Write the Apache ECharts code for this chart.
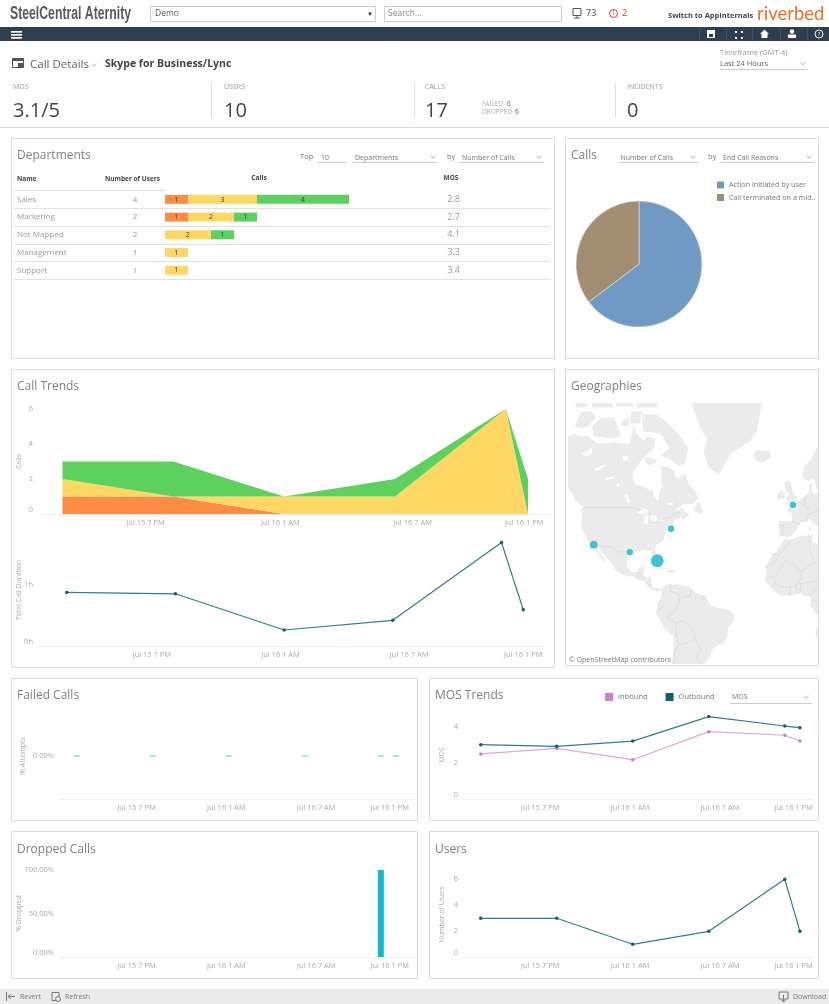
<!DOCTYPE html>
<html><head><meta charset="utf-8">
<style>html,body{margin:0;padding:0;background:#fff}#c{width:829px;height:1004px}</style>
<script src="https://cdn.jsdelivr.net/npm/echarts@6/dist/echarts.min.js"></script>
</head><body><div id="c"></div>
<script>
// ---------- data ----------
const departments = ['Sales','Marketing','Not Mapped','Management','Support'];
const deptUsers = [4,2,2,1,1];
const deptPoor = [1,1,0,0,0];
const deptFair = [3,2,2,1,1];
const deptGood = [4,1,1,0,0];
const deptMos = ['2.8','2.7','4.1','3.3','3.4'];
const endReasons = ['Action initiated by user','Call terminated on a mid..'];
const endReasonCalls = [11,6];
const hours = [0,6,12,18,24,25.2];
const tickNames = ['Jul 15 7 PM','Jul 16 1 AM','Jul 16 7 AM','Jul 16 1 PM'];
const tickHoursUpper = [4.5,11.8,18.95,25];
const tickHoursLower = [4.7,11.8,18.9,25.2];
const tickHoursNarrow = [4.7,11.8,18.9,24.7];
const callsPoor = [1,1,0,0,0,0];
const callsFair = [1,0,1,1,6,0];
const callsGood = [1,2,0,1,0,2];
const durationHours = [0.876,0.853,0.261,0.419,1.69,0.592];
const failedPct = [0,0,0,0,0,0];
const droppedPct = [0,0,0,0,100,0];
const mosInbound = [2.49,2.8,2.17,3.72,3.52,3.2];
const mosOutbound = [3.0,2.91,3.2,4.55,4.03,3.94];
const usersTrend = [3,3,1,2,6,2];
const cities = [['Miami',-80,24.5,8],['San Diego',-117,32.7,3],['Houston',-96,29,2],['New York',-72,40.2,2],['London',-1,50,2]];
const placeNames = [['Canada',-110,57.3],['United States',-97.7,38.2],['Brazil',-47.7,-13]];
// rough coastlines, lon/lat
const landRings = [
[[-132,69.5],[-128,70],[-125,69.5],[-120,69.5],[-115,68],[-110,68],[-105,68.2],[-100,68],[-96,68],[-94,71.5],[-92,70],[-88,68.5],[-85,69.5],[-81,69],[-82,67],[-87,65],[-90,63.5],[-94,61],[-94.5,59],[-92.5,57],[-88,56.5],[-85,55.3],[-82.5,55.2],[-82,53],[-80,51.3],[-79,52],[-79,54.5],[-76.5,56.5],[-78,58.7],[-77.5,60.5],[-78,62.4],[-74,62.2],[-70,61],[-69,58.8],[-65.5,59.8],[-64,60.3],[-61.5,57],[-58,54.8],[-56,52.5],[-59,50.3],[-65,50.2],[-67,49.3],[-70,47],[-65,49],[-64.5,47.5],[-61,46],[-64,44.5],[-66,43.7],[-66,45],[-67,44.8],[-70,43.7],[-71,42],[-74,40.5],[-75,38.5],[-76,36.8],[-76,35],[-78,33.9],[-81,32],[-81.5,30],[-80,27],[-80.2,25.3],[-81.5,25.5],[-82.7,28],[-83.5,29.5],[-85,29.7],[-89,30.3],[-89.5,29.2],[-91,29.3],[-94,29.5],[-97,28],[-97.5,25.5],[-97.7,22],[-96,19],[-94.5,18.2],[-91.5,18.5],[-90.5,21],[-87,21.5],[-88,18],[-88.5,16],[-84,15.8],[-83.3,14],[-83.7,11],[-82,9],[-79.5,9.5],[-77.5,8.7],[-78,7.5],[-80.5,7.3],[-83,8.3],[-85.5,10],[-87.5,13],[-91,14],[-94,16],[-97,15.8],[-101,17.3],[-105,19.8],[-105.5,22],[-109,25.7],[-112.5,29],[-114.5,31.5],[-114.7,30],[-111.5,26],[-110,23],[-112,24.8],[-115,28.5],[-117,32.5],[-120.5,34.5],[-122.5,37.8],[-124.2,40.5],[-124,46],[-124.7,48.4],[-122.7,49],[-125,50],[-128,52],[-130,54.5],[-132,56]],
[[-128,71.5],[-124,74],[-118,74],[-116,73],[-120,71.5],[-125,71]],
[[-117,69.5],[-106,69],[-101,69.5],[-105,73],[-112,73],[-118,71.5]],
[[-96,72],[-90,72],[-89,74],[-95,74]],
[[-100,72.5],[-96,73],[-97,71.5],[-101,71.5]],
[[-80,73.5],[-72,71.5],[-68,70],[-62,67],[-64,63],[-68,62.5],[-73,64.5],[-78,65],[-73,67],[-78,70],[-88,70.5],[-89,73.5]],
[[-92,75.3],[-80,75.3],[-80,74.6],[-92,74.6]],
[[-118,75.3],[-106,75.3],[-106,74.6],[-118,74.6]],
[[-104,75.3],[-94,75.3],[-94,74.8],[-104,74.8]],
[[-128,75.3],[-120,75.3],[-122,74.6],[-127,74.6]],
[[-87,65],[-80,64],[-84,62.5],[-87,63.5]],
[[-59,47.7],[-56,51.5],[-53,47],[-55.5,46.8]],
[[-64,49.8],[-62,49.4],[-64,49.2]],
[[-60,76],[-55,71],[-51,69],[-53,66],[-50,62],[-44,60],[-42,62],[-37,65.7],[-26,68.5],[-22,70.5],[-20,74],[-19,76]],
[[-24,65.5],[-22,66.4],[-15,66.3],[-13.7,65],[-18.5,63.4],[-22.5,63.9]],
[[-5.5,50],[1.3,51.2],[1.7,52.7],[0,53.5],[-1.5,55],[-2,57.5],[-4,58.5],[-6,57.5],[-5,55],[-3,54],[-4.5,53],[-5,51.7],[-3,51.3]],
[[-10,52],[-6,52.2],[-5.6,54.5],[-8,55.2],[-10,54]],
[[13.6,54.2],[11,54],[9.8,55],[10.5,57.5],[8.2,57],[8.5,54.8],[7,53.5],[4.5,52.5],[1.6,50.9],[0.2,49.6],[-1.5,49.5],[-4.7,48.5],[-1.2,46],[-1.8,43.4],[-8,43.7],[-9.3,43],[-9,38.7],[-8.8,37],[-6.3,36.7],[-5.4,36.1],[-2,36.8],[0,39],[3,41.8],[3.5,43.2],[6.5,43.1],[8.8,44.4],[10.5,43],[12.5,41.5],[13.6,41.2]],
[[12.5,38],[13.6,38.2],[13.6,37.2],[12.5,37.6]],
[[8.2,41],[9.7,41],[9.5,39],[8.5,39]],
[[5,59],[5,62],[10,64.5],[13.6,67.5],[13.6,55.5],[12.8,55.4],[11.8,58],[10.5,59],[8,58]],
[[11,37],[10,34],[13.6,32.8],[13.6,-11],[13,-6],[11.5,-4],[9,-1],[9.5,3.5],[8.5,4.5],[5.5,4.5],[4,6.3],[1,6],[-2,4.8],[-4.5,5.2],[-7.5,4.4],[-11,6.8],[-13.3,9],[-15,11],[-16.7,12.5],[-17.5,14.7],[-16.3,16.5],[-16.3,19],[-17,21],[-15,24.5],[-13,27.7],[-10,29.5],[-9.7,31.5],[-6.8,34],[-5.7,35.8],[-2,35.1],[3,36.9],[9.8,37.3]],
[[13.6,-11],[13.4,-12.5],[12,-17],[13.6,-22]],
[[-77.5,8.7],[-75.5,10.8],[-72,12],[-71.5,10.8],[-68,11.5],[-64,10.5],[-61.5,10.5],[-60,8.5],[-57,6],[-52,4.7],[-50,1],[-48.5,-1],[-44,-2.5],[-40,-2.8],[-37,-4.8],[-35,-6],[-35,-9],[-37.5,-12],[-39,-14],[-39,-18],[-41,-22],[-45,-23.5],[-48.5,-26],[-49,-29],[-52,-32],[-52.5,-33],[-71.5,-33],[-71,-30],[-70.5,-23],[-70.3,-18.5],[-76,-14],[-79,-8],[-81.2,-5],[-80,-2.5],[-80,0.5],[-78.5,2],[-77.5,4],[-77.5,7],[-78,7.5]],
[[-85,22],[-82,23.1],[-77,21],[-74.2,20.2],[-77.5,19.9],[-78,20.7],[-82,22]],
[[-74.4,18.5],[-73,19.9],[-68.5,18.8],[-70,18.2],[-72,18]],
[[-78.3,18.4],[-76.3,18.2],[-77,17.8]],
[[-67.2,18.5],[-65.7,18.4],[-66,18]]
];
const lakeRings = [
[[-92,46.7],[-88,48.8],[-85,47.5],[-85,46.5],[-90,46.6]],
[[-87.8,42],[-87,45.5],[-85,46],[-85.5,43],[-86.5,42]],
[[-84,46],[-81,45.8],[-80,44.5],[-82,43],[-83.5,44]],
[[-83,41.6],[-79,42.6],[-79,43],[-83,42.2]],
[[-79.5,43.3],[-76.2,43.5],[-76.5,44.2],[-79,44]],
[[-99,53.5],[-97,50.5],[-96,51],[-97.5,53.8]],
[[-116,61],[-109,62.7],[-112,62.5],[-116,61.7]],
[[-124,65.5],[-118,67],[-118,65.5],[-122,65]],
[[-111,59],[-105,59.5],[-105,59],[-110,58.5]],
[[-103.5,57.5],[-102,57.5],[-102,56.3],[-103.5,56.3]],
[[-74,50.5],[-71,51],[-71,50],[-74,50]],
[[-100,65],[-97,65],[-97,64],[-100,64]]
];
const borderLines = [
[[-123,49],[-95,49],[-89,48],[-84.5,46.5],[-82.5,45],[-82.5,42.5],[-79,43],[-76,44.5],[-71.5,45],[-69,47.3],[-67.5,45.5]],
[[-117,32.5],[-108,31.5],[-106.5,31.8],[-103,29],[-101,29.8],[-97.5,26]],
[[-92,14.5],[-91,17.5],[-89,17.8],[-88.5,15.8]],[[-89,14],[-87.5,16]],[[-85,11],[-83.7,11]],[[-83,8.3],[-82.8,9.5]],
[[-72,11.8],[-72.5,7.5],[-67.5,6],[-67,1.2]],[[-60,8.5],[-61,4.5],[-64,4]],[[-67,1.2],[-70,-4.2]],[[-70,-4.2],[-74,-8],[-69,-11]],
[[-69,-11],[-65,-10],[-60,-14],[-58,-18],[-58,-20]],[[-58,-20],[-62.5,-22],[-67,-23]],[[-70,-33],[-70,-27],[-67,-23]],[[-67,-23],[-69,-18]],[[-69,-18],[-69,-11]],
[[-80,-3.5],[-75,-1]],[[-58,-20],[-54.5,-25.5]],[[-54.5,-25.5],[-57.5,-30]],[[-57.5,-30],[-53.5,-33]],[[-57,6],[-58,1.5]],[[-54,5.5],[-54,2]],
[[-2,35],[-8.7,28],[-13,27.7]],[[-8.7,27.3],[-12,23.5],[-17,21]],[[-5,25],[-12,15],[-16.3,16.5]],[[-5,25],[4,19],[12,23.5]],[[8.5,36.9],[9,30],[12,23.5]],[[4,15],[4,19]],
[[-12,15],[-11,12],[-8,10],[-2.8,9.6],[2,11.5],[4,15]],[[-13.7,9.7],[-11,12]],[[-3,5],[-2.8,11]],[[1.5,6],[1,11]],[[3,6.3],[3.5,11.8],[13.6,13.5]],[[8.8,4.6],[13.6,10]],[[9.8,2.2],[13.6,2.2]],[[11.8,-4.8],[13.6,-4.5]],
[[-1.8,43.4],[3.2,42.4]],[[-8.8,42],[-6.5,41.6],[-7.4,37.2]],[[2.5,51],[6,49.5]],[[8,49],[7.5,47.6]],[[7,45.9],[10.5,47]],[[7.5,43.8],[7,45.9]],[[6,49.5],[8,49]],[[6,51.5],[6,49.5]],[[7,53.5],[6,51.5]],[[10.5,47],[13,47.5],[13.6,48.7]]
];

// ---------- page chrome ----------
const FONT = '"Open Sans","Noto Sans",sans-serif';
const g = [];
const T = (x,y,text,size,fill,o={}) => g.push(Object.assign({type:'text',x,y:y+(size>=11?1:0),silent:true,style:{text,fill,fontSize:size,fontFamily:o.family||FONT,fontWeight:o.weight||'normal',align:o.align||'left',verticalAlign:'middle'}},o.sx?{scaleX:o.sx}:{}));
const R = (x,y,w,h,fill,stroke) => g.push({type:'rect',silent:true,shape:{x,y,width:w,height:h},style:{fill:fill||'none',stroke:stroke||'none',lineWidth:1}});
const L = (x1,y1,x2,y2,c,w=1) => g.push({type:'line',silent:true,shape:{x1,y1,x2,y2},style:{stroke:c,lineWidth:w}});
const CH = (x,y,c='#999') => g.push({type:'polyline',silent:true,shape:{points:[[x-2.5,y-1.2],[x,y+1.2],[x+2.5,y-1.2]]},style:{stroke:c,lineWidth:.8,fill:'none'}});
const C = (x,y,r,fill,stroke) => g.push({type:'circle',silent:true,shape:{cx:x,cy:y,r},style:{fill:fill||'none',stroke:stroke||'none',lineWidth:1}});

// top bar
T(10,13,'SteelCentral Aternity',18,'#5a5a5a',{family:'"Liberation Sans"',weight:'bold',sx:0.68});
R(150.5,6.5,225,15,'#fff','#ccc'); T(155,14,'Demo',8.5,'#555'); T(370,14,'\u25BC',6,'#333',{align:'center'});
R(384.5,6.5,177,15,'#fff','#ccc'); T(388,14,'Search...',8.5,'#888');
R(573,8.5,8,7,'none','#555'); L(577,15.5,577,18,'#555'); L(574,18,580,18,'#555');
T(586,13.5,'73',9,'#444');
C(613.5,13.5,4,null,'#d9342b'); T(613.5,13.5,'!',6.5,'#d9342b',{align:'center'}); T(622,13.5,'2',9,'#d9342b');
T(668,16,'Switch to AppInternals',7.5,'#444',{weight:'bold'});
T(757,13,'riverbed',18.5,'#ee6d2c',{family:'"Lato","Open Sans"'});
// nav
R(0,27,829,14,'#2c3e50');
[11,14,17].forEach(y=>R(11,y+20,11,1.7,'#fff'));
[699,726,752,780,807].forEach(x=>L(x+.5,27,x+.5,41,'#3f5264'));
R(707,30,8,8,'#fff'); R(709,34,4,3,'#2c3e50'); 
[[735,31],[741,31],[735,37],[741,37]].forEach(p=>R(p[0],p[1],2,2,'#fff'));
g.push({type:'polygon',silent:true,shape:{points:[[764.5,29.5],[769,34],[767.5,34],[767.5,38],[761.5,38],[761.5,34],[760,34]]},style:{fill:'#fff'}});
C(792,31.5,2.2,'#fff'); R(788,34.5,8,3.5,'#fff');
C(819,34,4,null,'#fff'); T(819,34,'?',6,'#fff',{align:'center'});
// heading
R(12.5,58.5,11,9,'#fff','#555'); R(12.5,58.5,11,2.5,'#555'); R(18,63,5.5,4.5,'#555');
T(30,64,'Call Details',11.5,'#666'); CH(94,65);
T(105,64,'Skype for Business/Lync',10.5,'#444',{weight:'bold'});
T(720,53,'Timeframe (GMT-4)',7.5,'#999'); T(720,63.5,'Last 24 Hours',7.5,'#666');
L(720,69.5,808,69.5,'#ccc'); CH(803,63.5);
// KPIs
[['MOS',13,'3.1/5'],['USERS',224,'10'],['CALLS',425,'17'],['INCIDENTS',627,'0']].forEach(k=>{T(k[1],87,k[0],7,'#999');T(k[1],110,k[2],20,'#444');});
[211,414,615].forEach(x=>L(x+.5,83,x+.5,118,'#ddd'));
T(482,104,'FAILED',6.5,'#aaa'); T(507,104,'0',6.5,'#666'); T(482,112,'DROPPED',6.5,'#aaa'); T(515,112,'6',6.5,'#666');
L(0,127.5,829,127.5,'#d8d8d8');
// panels
[[11,138,543,220],[565,138,253,220],[11,369,543,298],[565,369,253,296],[11,678,406,142],[429,678,389,142],[11,831,406,147],[429,831,389,147]]
 .forEach(p=>R(p[0]+.5,p[1]+.5,p[2],p[3],null,'#dcdcdc'));
[[17,155,'Departments'],[571,155,'Calls'],[17,386,'Call Trends'],[571,386,'Geographies'],[17,695,'Failed Calls'],[435,695,'MOS Trends'],[17,849,'Dropped Calls'],[435,849,'Users']]
 .forEach(t=>T(t[0],t[1],t[2],12,'#808080'));
// controls
T(300,157,'Top',7.5,'#777'); T(321,157.5,'10',7,'#777'); L(317,162.5,347,162.5,'#ccc');
T(355,157.5,'Departments',7,'#777'); L(353,162.5,437,162.5,'#ccc'); CH(433,157);
T(447,157,'by',7.5,'#777'); T(462,157.5,'Number of Calls',7,'#777'); L(459,162.5,544,162.5,'#ccc'); CH(539,157);
T(620.5,157.5,'Number of Calls',7,'#777'); L(619,162.5,699,162.5,'#ccc'); CH(693,157);
T(708,157,'by',7.5,'#777'); T(723,157.5,'End Call Reasons',7,'#777'); L(721,162.5,814,162.5,'#ccc'); CH(809,157);
T(732,697,'MOS',7,'#777'); L(730,703.5,812,703.5,'#ccc'); CH(806,697);
// table
T(17,179,'Name',6.5,'#444',{weight:'bold'}); T(132.5,179,'Number of Users',6.5,'#444',{weight:'bold',align:'center'});
T(259,178,'Calls',6.5,'#444',{weight:'bold',align:'center'}); T(451,178,'MOS',6.5,'#444',{weight:'bold',align:'center'});
L(14,190.5,165,190.5,'#ddd');
const rowTop = 190.5, rowH = 17.72;
departments.forEach((d,i)=>{
  const y = rowTop + rowH*(i+.5);
  T(135,y,String(deptUsers[i]),8,'#999',{align:'center'});
  T(453.5,y,deptMos[i],9,'#999',{align:'center'});
  L(14,Math.round(rowTop+rowH*(i+1))+.5,550,Math.round(rowTop+rowH*(i+1))+.5,'#e2e2e2');
});
// footer
R(0,989,829,15,'#ebebeb');
L(6.5,992,6.5,1001,'#777'); L(8,996.5,15,996.5,'#777'); L(8,996.5,11,994,'#777'); L(8,996.5,11,999,'#777');
T(20,996.5,'Revert',7,'#777');
R(52,992.5,7,8,'none','#777'); C(58,999,2.5,'#ebebeb','#777');
T(65,996.5,'Refresh',7,'#777');
R(779,992,9,7,'none','#777'); L(783.5,995,783.5,1002,'#777'); L(781.5,1000,783.5,1002,'#777'); L(785.5,1000,783.5,1002,'#777');
T(793,996.5,'Download',7,'#777');
T(569,659.5,'\u00A9 OpenStreetMap contributors',7,'#777');

// ---------- map ----------
const merc = lat => Math.log(Math.tan(Math.PI/4+lat*Math.PI/360))*180/Math.PI;
const LON=[-132,13.6], LAT=[-33,75.3];
const proj = p => [Math.min(LON[1],Math.max(LON[0],p[0])), merc(Math.min(LAT[1],Math.max(LAT[0],p[1])))];
const closeRing = r => { const q=r.map(proj); q.push(q[0]); return [q]; };
echarts.registerMap('atlantic',{type:'FeatureCollection',features:[
 {type:'Feature',properties:{name:'Land'},geometry:{type:'MultiPolygon',coordinates:landRings.map(closeRing)}},
 {type:'Feature',properties:{name:'Lakes'},geometry:{type:'MultiPolygon',coordinates:lakeRings.map(closeRing)}}
]});

// ---------- chart helpers ----------
const tone = {fontSize:7.5,color:'#aaa',fontFamily:FONT};
const pairs = v => v.map((y,i)=>[hours[i],y]);
const flipped = v => v.map((y,i)=>[y,hours[i]]);
const xAxes=[], yAxes=[], grids=[];
function panel(left,top,width,height,xMin,xMax,ticks,yOpt,name,nameGap){
  const i=grids.length;
  grids.push({left,top,width,height});
  xAxes.push({type:'value',gridIndex:i,min:xMin,max:xMax,splitLine:{show:false},axisTick:{show:false},
    axisLine:{show:true,onZero:false,lineStyle:{color:'#eeeeee'}},
    axisLabel:Object.assign({customValues:ticks,hideOverlap:false,margin:5,showMinLabel:true,showMaxLabel:true,alignMaxLabel:'center',
      formatter:v=>tickNames[ticks.indexOf(v)]||''},tone)});
  yAxes.push(Object.assign({type:'value',gridIndex:i,splitLine:{show:false},axisLine:{show:false},axisTick:{show:false},
    name,nameLocation:'middle',nameGap,nameRotate:90,nameMoveOverlap:false,nameTextStyle:{fontSize:7,color:'#aaa',fontFamily:FONT}},yOpt));
  return i;
}
const yLab = (o={}) => Object.assign({margin:6,verticalAlignMinLabel:'bottom',showMaxLabel:false},tone,o);
const trendLine = (i,name,vals,color,lineColor) => ({type:'line',name,xAxisIndex:i,yAxisIndex:i,data:pairs(vals),symbol:'circle',symbolSize:3.5,showSymbol:true,
  itemStyle:{color},lineStyle:{color:lineColor,width:1.2},silent:true,animation:false});
// y first so that the stack runs along y; encode puts it back on the right axes
const band = (i,name,vals,color) => ({type:'line',name,xAxisIndex:i,yAxisIndex:i,stack:'calls',data:flipped(vals),encode:{x:1,y:0},showSymbol:false,symbol:'none',lineStyle:{width:0},areaStyle:{color,opacity:1},silent:true,animation:false});
const RED='#ff8c45',YEL='#ffd764',GRN='#5cd15d',TEAL='#0f6069',TEALL='#2f7e88';

const series=[];
// table
grids.push({left:165,top:190.5,width:184,height:88.6});
xAxes.push({type:'value',gridIndex:0,min:0,max:8,show:false});
yAxes.push({type:'category',gridIndex:0,inverse:true,data:departments,axisLine:{show:false},axisTick:{show:false},
  axisLabel:{align:'left',margin:148,fontSize:8,color:'#999',fontFamily:FONT}});
[['Poor',deptPoor,RED],['Fair',deptFair,YEL],['Good',deptGood,GRN]].forEach(b=>series.push({type:'bar',name:b[0],stack:'dept',xAxisIndex:0,yAxisIndex:0,data:b[1],barWidth:9,silent:true,animation:false,
  itemStyle:{color:b[2]},label:{show:true,position:'inside',fontSize:7.5,color:'#444',fontFamily:FONT,formatter:p=>p.value?p.value:''}}));
// call trends
let i=panel(39,409,513,105,-1.27,26.5,tickHoursUpper,{min:0,max:6,interval:2,axisLabel:yLab({showMaxLabel:true})},'Calls',17);
series.push(band(i,'Poor',callsPoor,RED),band(i,'Fair',callsFair,YEL),band(i,'Good',callsGood,GRN));
i=panel(39,534,506,112,-1.53,26.4,tickHoursLower,{min:0,max:1.83,interval:1,axisLabel:yLab({formatter:v=>v+'h'})},'Total Call Duration',17);
series.push(trendLine(i,'Duration',durationHours,TEAL,TEALL));
// failed
i=panel(59,713,356,86,-1.42,26.7,tickHoursNarrow,{min:-1,max:1,axisLabel:Object.assign({customValues:[0],margin:5,formatter:v=>v.toFixed(2)+'%'},tone)},'% Attempts',33);
series.push({type:'scatter',name:'Failed',xAxisIndex:i,yAxisIndex:i,data:pairs(failedPct),symbol:'rect',symbolSize:[6.5,1.2],itemStyle:{color:'#55c8dc'},silent:true,animation:false});
// MOS
i=panel(464,711,348,88,-1.32,26.15,tickHoursNarrow,{min:0,max:4.86,interval:2,axisLabel:yLab()},'MOS',19);
series.push(trendLine(i,'Inbound',mosInbound,'#d17cc6','#e2a5da'),trendLine(i,'Outbound',mosOutbound,TEAL,TEALL));
// dropped
i=panel(59,870,356,87,-1.42,26.7,tickHoursNarrow,{min:0,max:100,interval:50,axisLabel:yLab({showMaxLabel:true,margin:5,formatter:v=>v.toFixed(2)+'%'})},'% Dropped',37);
series.push({type:'bar',name:'Dropped',xAxisIndex:i,yAxisIndex:i,data:pairs(droppedPct),barWidth:6,itemStyle:{color:'#13b7cf'},silent:true,animation:false});
// users
i=panel(464,872,348,85.3,-1.32,26.15,tickHoursNarrow,{min:0,max:6.56,interval:2,axisLabel:yLab()},'Number of Users',19);
series.push(trendLine(i,'Users',usersTrend,TEAL,TEALL));
// pie
series.push({type:'pie',name:'End reasons',center:[639,264],radius:63,startAngle:90,silent:true,animation:false,label:{show:false},labelLine:{show:false},
  itemStyle:{borderColor:'#e8e4dc',borderWidth:.6},
  data:endReasons.map((name,k)=>({name,value:endReasonCalls[k],itemStyle:{color:['#7099c4','#a08d72'][k]}}))});
// map
series.push({type:'lines',coordinateSystem:'geo',geoIndex:0,polyline:true,silent:true,animation:false,lineStyle:{color:'#cfcfcf',width:.5,opacity:1},
  data:borderLines.map(l=>({coords:l.map(proj)}))});
series.push({type:'scatter',coordinateSystem:'geo',geoIndex:0,name:'Places',silent:true,animation:false,symbolSize:1,itemStyle:{opacity:0},
  data:placeNames.map(p=>({name:p[0],value:proj([p[1],p[2]])})),
  label:{show:true,position:'inside',formatter:'{b}',fontSize:8.5,color:'#8a8a8a',fontFamily:FONT}});
series.push({type:'scatter',coordinateSystem:'geo',geoIndex:0,name:'Sites',silent:true,animation:false,
  data:cities.map(c=>({name:c[0],value:[...proj([c[1],c[2]]),c[3]]})),
  symbolSize:v=>Math.sqrt(v[2])*4.5,itemStyle:{color:'#3cc4d6',opacity:1}});

const chart=echarts.init(document.getElementById('c'),null,{renderer:'canvas'});
chart.setOption({
  animation:false,backgroundColor:'#fff',
  graphic:{elements:g},
  legend:[
   {data:endReasons,left:717,top:181.5,padding:0,orient:'vertical',icon:'rect',itemWidth:7,itemHeight:7,itemGap:5.5,itemStyle:{borderWidth:0},selectedMode:false,textStyle:{fontSize:7.2,color:'#777',fontFamily:FONT}},
   {data:['Inbound','Outbound'],left:605,top:693,padding:0,icon:'rect',itemWidth:8,itemHeight:8,itemGap:18,itemStyle:{borderWidth:0},selectedMode:false,textStyle:{fontSize:7.5,color:'#777',fontFamily:FONT}}
  ],
  geo:{map:'atlantic',left:568,top:403,width:250,height:261,aspectScale:1,roam:false,silent:true,
    boundingCoords:[[LON[0],merc(LAT[1])],[LON[1],merc(LAT[0])]],
    label:{show:false},emphasis:{disabled:true},
    itemStyle:{areaColor:'#ebebeb',borderWidth:0},
    regions:[{name:'Lakes',itemStyle:{areaColor:'#ffffff'}}]},
  grid:grids,xAxis:xAxes,yAxis:yAxes,series
});
</script></body></html>
